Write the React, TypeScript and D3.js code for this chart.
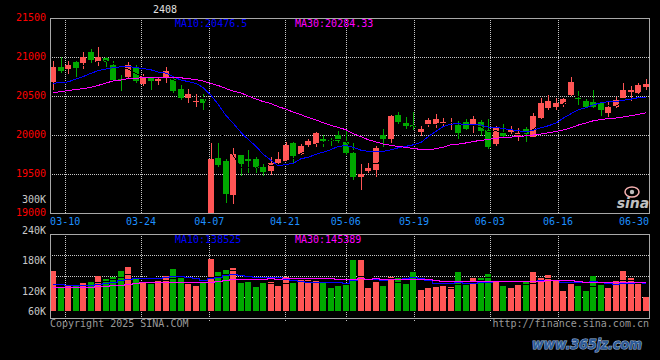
import { useEffect, useRef } from "react";
import * as d3 from "d3";

// daily bars (80 sessions, 03-06 .. 06-30)
const openP = [
  20683, 20868, 20846, 20936, 20927, 21060, 20936, 20992, 20894, 20718,
  20748, 20876, 20654, 20756, 20696, 20727, 20714, 20586, 20478, 20423,
  20462, 18880, 19701, 19667, 19231, 19744, 19692, 19692, 19590, 19539,
  19641, 19671, 19898, 19753, 19872, 19885, 19949, 19936, 19996, 19905,
  19769, 19458, 19539, 19552, 20000, 19949, 20256, 20158, 20128, 20043,
  20128, 20141, 20145, 20150, 20124, 20167, 20128, 20167, 20064, 19881,
  20030, 20043, 19987, 20077, 19978, 20214, 20350, 20363, 20397, 20513,
  20474, 20436, 20423, 20406, 20286, 20363, 20478, 20555, 20542, 20609,
];
const highP = [
  20949, 20996, 20949, 20945, 21060, 21103, 21128, 21005, 20953, 20769,
  20940, 20897, 20786, 20760, 20756, 20872, 20731, 20641, 20590, 20526,
  20526, 19901, 19894, 19696, 19830, 19750, 19808, 19722, 19637, 19714,
  19782, 19906, 19905, 19890, 19949, 20043, 20000, 19958, 20055, 20064,
  19894, 19628, 19637, 19859, 20073, 20256, 20300, 20235, 20300, 20115,
  20214, 20269, 20214, 20222, 20179, 20205, 20244, 20192, 20205, 20115,
  20141, 20115, 20086, 20107, 20286, 20474, 20513, 20470, 20478, 20740,
  20564, 20462, 20577, 20440, 20427, 20483, 20663, 20628, 20663, 20714,
];
const lowP = [
  20577, 20799, 20782, 20748, 20842, 20919, 20885, 20868, 20692, 20564,
  20718, 20663, 20628, 20577, 20641, 20663, 20535, 20448, 20410, 20359,
  20320, 18800, 19594, 19132, 19116, 19478, 19517, 19517, 19478, 19487,
  19628, 19667, 19640, 19744, 19847, 19851, 19842, 19859, 19894, 19744,
  19423, 19295, 19517, 19458, 19851, 19894, 20141, 20077, 20064, 19987,
  20107, 20086, 20107, 20064, 19949, 20060, 20030, 19987, 19817, 19860,
  19958, 20013, 19927, 19914, 19974, 20201, 20321, 20321, 20363, 20500,
  20385, 20346, 20342, 20244, 20235, 20342, 20470, 20440, 20513, 20577,
];
const closeP = [
  20868, 20824, 20897, 20855, 21000, 20966, 21000, 20932, 20705, 20699,
  20902, 20697, 20756, 20696, 20722, 20820, 20564, 20478, 20522, 20440,
  20407, 19688, 19615, 19244, 19753, 19632, 19671, 19581, 19526, 19645,
  19692, 19872, 19735, 19859, 19923, 20030, 19928, 19919, 19927, 19773,
  19458, 19500, 19581, 19830, 19949, 20243, 20170, 20119, 20107, 20077,
  20192, 20205, 20163, 20163, 20030, 20081, 20205, 20056, 19842, 20086,
  19987, 20064, 20030, 20013, 20244, 20410, 20436, 20414, 20462, 20676,
  20458, 20363, 20363, 20317, 20359, 20449, 20577, 20577, 20641, 20660,
];
// volume, thousands
const volumeK = [
  203, 122, 126, 131, 139, 147, 178, 161, 173, 201,
  223, 168, 147, 134, 153, 178, 213, 173, 137, 126,
  147, 263, 198, 208, 218, 142, 147, 122, 139, 147,
  126, 173, 144, 156, 156, 156, 139, 114, 127, 131,
  257, 257, 117, 147, 127, 173, 168, 136, 198, 106,
  117, 122, 126, 119, 198, 131, 168, 168, 185, 153,
  126, 117, 131, 144, 198, 168, 181, 156, 101, 136,
  126, 101, 176, 136, 117, 153, 201, 168, 136, 72,
];

// moving averages before enough bars exist (they use earlier sessions)
const ma10Early = [20664, 20671, 20680, 20718, 20748, 20791, 20825, 20846, 20863];
const ma30Early = [
  20545, 20555, 20571, 20583, 20594, 20613, 20635, 20667, 20692, 20705,
  20724, 20727, 20735, 20735, 20735, 20735, 20735, 20733, 20722, 20712,
  20692, 20660, 20635, 20596, 20564, 20539, 20500, 20461, 20429,
];
const volMa10EarlyK = [138, 134, 131, 131, 131, 133, 136, 141, 146];
const volMa30EarlyK = [
  121, 123, 123, 123, 123, 123, 126, 128, 131, 133,
  138, 143, 144, 144, 144, 144, 144, 144, 144, 144,
  144, 148, 151, 155, 160, 160, 160, 160, 160,
];

const tickIndex = [2, 12, 21, 31, 39, 48, 58, 67, 79];
const tickLabels = ["03-10", "03-24", "04-07", "04-21", "05-06", "05-19", "06-03", "06-16", "06-30"];
const priceTicks = [21500, 21000, 20500, 20000, 19500, 19000];
const priceGrid = [21000, 20500, 20000, 19500];
const volTicksK = [300, 240, 180, 120, 60];

const title = "2408";
const priceMaText = ["MA10:20476.5", "MA30:20284.33"];
const volMaText = ["MA10:138525", "MA30:145389"];

const W = 660;
const H = 360;
const P = { left: 50, right: 649, top: 18, bottom: 213 };
const V = { top: 234, bottom: 318, base: 311 };
const FONT = "'DejaVu Sans Mono', monospace";
const UP = "#ff5555";
const DOWN = "#00a800";
const GRID = "#c8c8c8";
const FRAME = "#a8a8a8";

function movingAvg(values: number[], n: number, early: number[] | null) {
  return values.map((_, i) =>
    i >= n - 1
      ? (d3.mean(values.slice(i - n + 1, i + 1)) as number)
      : early
      ? early[i]
      : NaN
  );
}

export default function App() {
  const svgRef = useRef<SVGSVGElement>(null);

  useEffect(() => {
    if (!svgRef.current) return;
    const svg = d3.select(svgRef.current);
    svg.selectAll("*").remove();

    const idx = d3.range(closeP.length);
    const vol = volumeK.map((v) => v * 1000);

    // bar left edges and date grid use slightly different spans, as in the source chart
    const x = d3.scalePoint<number>().domain(idx).range([50, 643]);
    const gx = d3.scalePoint<number>().domain(idx).range([P.left, P.right]);
    const y = d3.scaleLinear().domain([19000, 21500]).range([P.bottom, P.top]);
    const yv = d3.scaleLinear().domain([0, 300000]).range([V.base, V.base - 59.6]);
    const yLab = d3.scaleLinear().domain([120, 240]).range([291, 230]);

    const bw = 6;
    const cx = (i: number) => Math.round(x(i)!) + 3;

    svg.append("rect").attr("width", W).attr("height", H).attr("fill", "#000");

    svg
      .append("defs")
      .append("clipPath")
      .attr("id", "pclip")
      .append("rect")
      .attr("x", P.left)
      .attr("y", P.top)
      .attr("width", P.right - P.left)
      .attr("height", P.bottom - P.top);

    const dotted = (g: d3.Selection<SVGGElement, unknown, null, undefined>) =>
      g.attr("stroke", GRID).attr("stroke-width", 1).attr("stroke-dasharray", "1,1");

    // price grid
    const pg = svg.append("g").call(dotted);
    pg.selectAll("line.h")
      .data(priceGrid)
      .join("line")
      .attr("x1", P.left)
      .attr("x2", P.right)
      .attr("y1", (d) => Math.round(y(d)) + 0.5)
      .attr("y2", (d) => Math.round(y(d)) + 0.5);
    pg.selectAll("line.v")
      .data(tickIndex.slice(0, -1))
      .join("line")
      .attr("x1", (d) => Math.round(gx(d)!) + 0.5)
      .attr("x2", (d) => Math.round(gx(d)!) + 0.5)
      .attr("y1", P.top)
      .attr("y2", P.bottom);

    // volume grid
    const vg = svg.append("g").call(dotted);
    vg.selectAll("line.h")
      .data([1, 2, 3])
      .join("line")
      .attr("x1", P.left)
      .attr("x2", P.right)
      .attr("y1", (k) => Math.round(V.top + ((V.bottom - V.top) * k) / 4) + 0.5)
      .attr("y2", (k) => Math.round(V.top + ((V.bottom - V.top) * k) / 4) + 0.5);
    vg.selectAll("line.v")
      .data(tickIndex.slice(0, -1))
      .join("line")
      .attr("x1", (d) => Math.round(gx(d)!) + 0.5)
      .attr("x2", (d) => Math.round(gx(d)!) + 0.5)
      .attr("y1", V.top)
      .attr("y2", V.bottom + 4);

    // candles
    const cg = svg.append("g").attr("clip-path", "url(#pclip)").attr("shape-rendering", "crispEdges");
    idx.forEach((i) => {
      const up = closeP[i] >= openP[i];
      const col = up ? UP : DOWN;
      const left = Math.round(x(i)!);
      const hi = Math.round(y(highP[i]));
      const lo = Math.round(y(lowP[i]));
      cg.append("rect")
        .attr("x", left + 3)
        .attr("y", hi)
        .attr("width", 1)
        .attr("height", Math.max(1, lo - hi))
        .attr("fill", col);
      const top = Math.round(y(Math.max(openP[i], closeP[i])));
      const bot = Math.round(y(Math.min(openP[i], closeP[i])));
      cg.append("rect")
        .attr("x", left)
        .attr("y", top)
        .attr("width", bw)
        .attr("height", Math.max(1, bot - top))
        .attr("fill", col);
    });

    const ma5 = movingAvg(closeP, 5, null);
    const ma10 = movingAvg(closeP, 10, ma10Early);
    const ma30 = movingAvg(closeP, 30, ma30Early);
    const priceLine = d3
      .line<number>()
      .defined((d) => !isNaN(d))
      .x((_, i) => cx(i))
      .y((d) => y(d));
    [
      { d: ma5, c: "#000" },
      { d: ma10, c: "#0000ff" },
      { d: ma30, c: "#ff00ff" },
    ].forEach((s) => {
      cg.append("path")
        .datum(s.d)
        .attr("d", priceLine)
        .attr("fill", "none")
        .attr("stroke", s.c)
        .attr("stroke-width", 1);
    });

    // volume bars
    const vb = svg.append("g").attr("shape-rendering", "crispEdges");
    vb.selectAll("rect")
      .data(idx)
      .join("rect")
      .attr("x", (i) => Math.round(x(i)!))
      .attr("y", (i) => Math.round(yv(vol[i])))
      .attr("width", bw)
      .attr("height", (i) => V.base - Math.round(yv(vol[i])))
      .attr("fill", (i) => (closeP[i] >= openP[i] ? UP : DOWN));

    const vma5 = movingAvg(vol, 5, null);
    const vma10 = movingAvg(vol, 10, volMa10EarlyK.map((v) => v * 1000));
    const vma30 = movingAvg(vol, 30, volMa30EarlyK.map((v) => v * 1000));
    const volLine = d3
      .line<number>()
      .defined((d) => !isNaN(d))
      .x((_, i) => cx(i))
      .y((d) => Math.round(yv(d)) + 0.5)
      .curve(d3.curveStep);
    [
      { d: vma5, c: "#000" },
      { d: vma10, c: "#0000ff" },
      { d: vma30, c: "#ff00ff" },
    ].forEach((s) => {
      vb.append("path")
        .datum(s.d)
        .attr("d", volLine)
        .attr("fill", "none")
        .attr("stroke", s.c)
        .attr("stroke-width", 1);
    });

    // frames
    svg.append("rect")
      .attr("x", P.left + 0.5)
      .attr("y", P.top + 0.5)
      .attr("width", P.right - P.left)
      .attr("height", P.bottom - P.top)
      .attr("fill", "none")
      .attr("stroke", FRAME);
    svg.append("rect")
      .attr("x", P.left + 0.5)
      .attr("y", V.top + 0.5)
      .attr("width", P.right - P.left)
      .attr("height", V.bottom - V.top)
      .attr("fill", "none")
      .attr("stroke", FRAME);

    const txt = (
      tx: number,
      ty: number,
      s: string,
      fill: string,
      anchor = "start"
    ) =>
      svg.append("text")
        .attr("x", tx)
        .attr("y", ty)
        .attr("dy", "0.35em")
        .attr("font-family", FONT)
        .attr("font-size", 10)
        .attr("text-anchor", anchor)
        .attr("fill", fill)
        .text(s);

    // price labels
    priceTicks.forEach((p) => txt(46, Math.round(y(p)) - 1, String(p), "#ff0000", "end"));
    // volume labels
    volTicksK.forEach((v) =>
      txt(46, Math.min(V.base, yLab(v)), `${v}K`, "#c8c8c8", "end")
    );
    // date labels
    tickIndex.forEach((d, k) => {
      const last = k === tickIndex.length - 1;
      txt(last ? P.right : gx(d)!, 221, tickLabels[k], "#1e90ff", last ? "end" : "middle");
    });

    txt(165, 9, title, "#e0e0e0", "middle");
    txt(175, 23, priceMaText[0], "#0000ff");
    txt(295, 23, priceMaText[1], "#ff00ff");
    txt(175, 239, volMaText[0], "#0000ff");
    txt(295, 239, volMaText[1], "#ff00ff");
    txt(50, 323, "Copyright 2025 SINA.COM", "#999");
    txt(P.right, 323, "http://finance.sina.com.cn", "#999", "end");

    // sina logo
    svg.append("ellipse")
      .attr("cx", 632)
      .attr("cy", 192)
      .attr("rx", 7)
      .attr("ry", 5)
      .attr("fill", "none")
      .attr("stroke", "#f4b0b0")
      .attr("stroke-width", 1.5);
    svg.append("circle").attr("cx", 632).attr("cy", 192).attr("r", 2.2).attr("fill", "#bbb");
    svg.append("text")
      .attr("x", 633)
      .attr("y", 208)
      .attr("text-anchor", "middle")
      .attr("font-family", "'DejaVu Sans', sans-serif")
      .attr("font-size", 14)
      .attr("font-weight", "bold")
      .attr("font-style", "italic")
      .attr("fill", "#c0c0c0")
      .text("sina");

    // watermark
    svg.append("text")
      .attr("x", 532)
      .attr("y", 349)
      .attr("textLength", 110)
      .attr("lengthAdjust", "spacingAndGlyphs")
      .attr("font-family", "'DejaVu Sans', sans-serif")
      .attr("font-size", 14)
      .attr("font-weight", "bold")
      .attr("font-style", "italic")
      .attr("fill", "#2c5a96")
      .attr("stroke", "#9fb6d6")
      .attr("stroke-width", 1.2)
      .attr("paint-order", "stroke")
      .text("www.365jz.com");
  }, []);

  return (
    <svg
      ref={svgRef}
      width={W}
      height={H}
      style={{ position: "absolute", left: 0, top: 0, display: "block" }}
    />
  );
}
